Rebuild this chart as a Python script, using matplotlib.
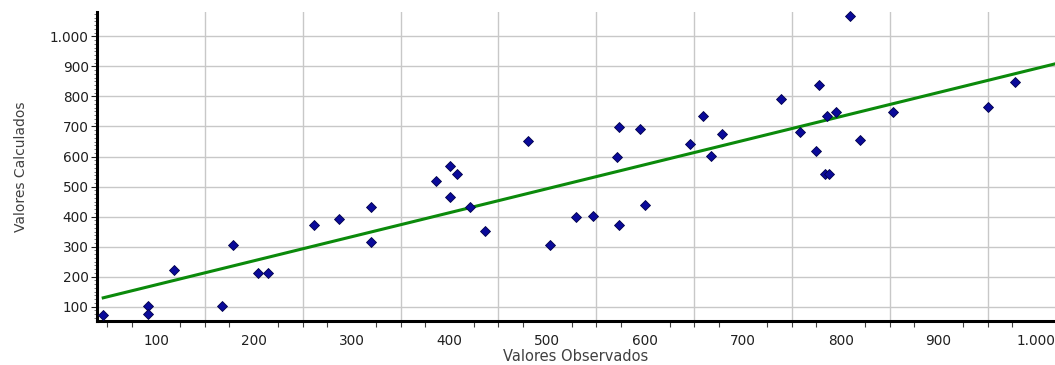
import matplotlib
matplotlib.use("Agg")
import matplotlib.pyplot as plt
import matplotlib.ticker as ticker
import numpy as np

observados = [46, 91.5, 91.5, 118.7, 167.5, 179, 204, 214, 261.5, 287,
              320, 320, 386.6, 400, 407.7, 400, 421.4, 436.4, 480.4, 502.5,
              529.8, 547, 573.7, 599.6, 571, 573.7, 594.5, 646, 659.6, 667.8,
              678.7, 739, 758, 809, 777.8, 785.6, 795, 775, 784, 788,
              820, 853, 950, 978]
calculados = [72, 103, 76, 222, 103, 304, 211, 211, 372, 392,
              433, 314, 517, 568, 543, 465, 433, 352, 651, 304,
              399, 403, 372, 439, 598, 698, 692, 641, 734, 603,
              676, 791, 682, 1069, 837, 734, 749, 620, 543, 543,
              656, 748, 765, 847]

x_ticks = list(range(100, 1001, 100))
y_ticks = list(range(100, 1001, 100))
x_grid = list(range(150, 1000, 100))

def miles(v, pos):
    return f"{v:,.0f}".replace(",", ".")

plt.rcParams['font.family'] = ['DejaVu Sans']

fig = plt.figure(figsize=(10.55, 3.65), dpi=100)
ax = fig.add_axes([0.092, 0.1205, 0.908, 0.8465])

xlim = (39.7, 1019)
ylim = (52.4, 1081)

# grid
for y in y_ticks:
    ax.axhline(y, color='#c8c8c8', lw=1.0, zorder=0)
for x in x_grid:
    ax.axvline(x, color='#c8c8c8', lw=1.0, zorder=0)

# regression line from the data
m, b = np.polyfit(observados, calculados, 1)
xs = np.array([min(observados), xlim[1]])
ax.plot(xs, m * xs + b, color='#0b8a0b', lw=2.2, zorder=2)

ax.plot(observados, calculados, 'D', color='#0a0a9a', mec='#00004a',
        mew=0.6, ms=5.6, zorder=3, clip_on=False)

ax.set_xlim(*xlim)
ax.set_ylim(*ylim)

ax.set_xticks(x_ticks)
ax.set_yticks(y_ticks)
ax.xaxis.set_major_formatter(ticker.FuncFormatter(miles))
ax.yaxis.set_major_formatter(ticker.FuncFormatter(miles))
ax.xaxis.set_minor_locator(ticker.MultipleLocator(25))
ax.yaxis.set_minor_locator(ticker.MultipleLocator(12.5))
ax.tick_params(axis='x', which='major', length=0, pad=9, labelsize=9.8, colors='#202020')
ax.tick_params(axis='x', which='minor', length=4, width=0.8, color='#404040')
ax.tick_params(axis='y', which='major', length=4, width=0.8, pad=2, labelsize=9.8, colors='#202020')
ax.tick_params(axis='y', which='minor', length=2, width=0.6, color='#606060')

for s in ['top', 'right']:
    ax.spines[s].set_visible(False)
for s in ['left', 'bottom']:
    ax.spines[s].set_linewidth(2.2)
    ax.spines[s].set_color('black')

ax.set_xlabel('Valores Observados', fontsize=10.5, color='#404040', labelpad=1)
ax.set_ylabel('Valores Calculados', fontsize=10, color='#404040', labelpad=16)

plt.savefig('out.png', dpi=100)
